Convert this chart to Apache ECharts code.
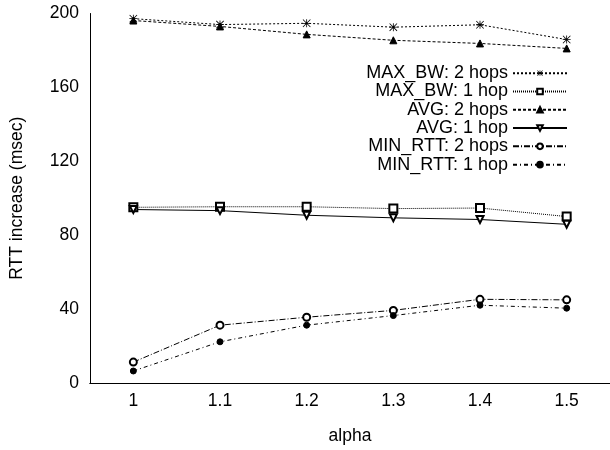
<!DOCTYPE html>
<html>
<head>
<meta charset="utf-8">
<script src="https://cdn.jsdelivr.net/npm/echarts@6/dist/echarts.min.js"></script>
<style>
  html, body { margin: 0; padding: 0; background: #fff; }
  #chart { width: 610px; height: 450px; }
</style>
</head>
<body>
<div id="chart"></div>
<script>
const alpha = ['1', '1.1', '1.2', '1.3', '1.4', '1.5']
const maxBw2 = [197.2, 194.0, 194.7, 192.6, 193.9, 185.9]
const maxBw1 = [95.1, 95.4, 95.4, 94.4, 94.7, 90.1]
const avg2 = [196.2, 193.0, 188.7, 185.5, 183.8, 181.1]
const avg1 = [93.9, 93.3, 90.8, 89.4, 88.5, 85.9]
const minRtt2 = [11.3, 31.3, 35.6, 39.3, 45.3, 45.0]
const minRtt1 = [6.5, 22.3, 31.3, 36.5, 42.1, 40.5]

const font = 'Liberation Sans, Arial, sans-serif'
// gnuplot style asterisk
const star = 'path://M0,4.5L10,4.5L10,5.5L0,5.5Z M4.5,0L5.5,0L5.5,10L4.5,10Z M0.7,0L10,9.3L9.3,10L0,0.7Z M9.3,0L10,0.7L0.7,10L0,9.3Z'

const mk = (name, data, symbol, size, dash, extra) => Object.assign({
  name: name,
  type: 'line',
  data: data,
  symbol: symbol,
  symbolSize: size,
  xAxisIndex: 0,
  yAxisIndex: 0,
  animation: false,
  itemStyle: { color: '#000', borderColor: '#000', borderWidth: 1 },
  lineStyle: { color: '#000', width: 1, type: dash }
}, extra || {})

const chart = echarts.init(document.getElementById('chart'))
const tickStyle = { inside: true, length: 6, lineStyle: { color: '#000' } }
chart.setOption({
  backgroundColor: '#fff',
  grid: { left: 89, right: -2, top: 13.5, bottom: 60 },
  legend: {
    right: 37,
    top: 59,
    orient: 'vertical',
    align: 'right',
    itemWidth: 54,
    itemHeight: 7,
    itemGap: 0,
    textStyle: { fontFamily: font, fontSize: 18, color: '#000', lineHeight: 18.3 },
    data: ['MAX_BW: 2 hops', 'MAX_BW: 1 hop', 'AVG: 2 hops', 'AVG: 1 hop', 'MIN_RTT: 2 hops', 'MIN_RTT: 1 hop']
  },
  xAxis: [{
    type: 'category',
    data: alpha,
    boundaryGap: true,
    name: 'alpha',
    nameLocation: 'middle',
    nameGap: 44,
    nameTextStyle: { fontFamily: font, fontSize: 17.5, color: '#000' },
    axisLine: { lineStyle: { color: '#000', width: 1 } },
    axisTick: Object.assign({ alignWithLabel: true }, tickStyle),
    axisLabel: { fontFamily: font, fontSize: 17.5, color: '#000', margin: 9 },
    splitLine: { show: false }
  }, {
    type: 'category',
    data: alpha,
    position: 'top',
    boundaryGap: true,
    axisLine: { lineStyle: { color: '#000', width: 1 } },
    axisTick: Object.assign({ alignWithLabel: true }, tickStyle),
    axisLabel: { show: false },
    splitLine: { show: false }
  }],
  yAxis: [{
    type: 'value',
    min: 0,
    max: 200,
    interval: 40,
    name: 'RTT increase (msec)',
    nameLocation: 'middle',
    nameGap: 64,
    nameTextStyle: { fontFamily: font, fontSize: 17.5, color: '#000' },
    axisLine: { show: true, lineStyle: { color: '#000', width: 1 } },
    axisTick: tickStyle,
    axisLabel: { fontFamily: font, fontSize: 17.5, color: '#000', margin: 11 },
    splitLine: { show: false }
  }, {
    type: 'value',
    min: 0,
    max: 200,
    interval: 40,
    position: 'right',
    axisLine: { show: true, lineStyle: { color: '#000', width: 1 } },
    axisTick: tickStyle,
    axisLabel: { show: false },
    splitLine: { show: false }
  }],
  series: [
    mk('MAX_BW: 2 hops', maxBw2, star, 8, [2, 2], { itemStyle: { color: '#000', borderWidth: 0 } }),
    mk('MAX_BW: 1 hop', maxBw1, 'emptyRect', 8, [1, 1]),
    mk('AVG: 2 hops', avg2, 'triangle', 7, [3, 2]),
    mk('AVG: 1 hop', avg1, 'emptyTriangle', 7, 'solid', { symbolRotate: 180 }),
    mk('MIN_RTT: 2 hops', minRtt2, 'emptyCircle', 7, [6, 2, 1, 2]),
    mk('MIN_RTT: 1 hop', minRtt1, 'circle', 6, [4, 3, 1, 3])
  ]
})
</script>
</body>
</html>
